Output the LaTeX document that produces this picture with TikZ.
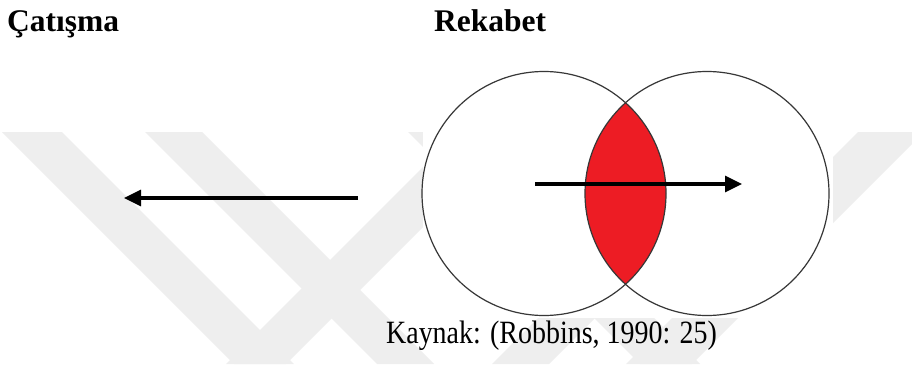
\documentclass[tikz,border=0pt]{standalone}
\usepackage{fontspec}
\setmainfont{Liberation Serif}
\usetikzlibrary{arrows.meta}
\definecolor{wm}{RGB}{238,238,238}
\definecolor{lensred}{RGB}{237,28,36}
\definecolor{ringc}{RGB}{55,55,55}
\begin{document}
\begin{tikzpicture}[x=1pt,y=-1pt,
  band/.style={fill=wm,draw=none},
  ring/.style={circle,draw=ringc,line width=1.2pt,minimum size=244pt,inner sep=0pt},
  bigarrow/.style={line width=3.1pt,-{Triangle[length=17pt,width=16pt]}},
  head/.style={font=\fontsize{31.5}{36}\selectfont\bfseries,inner sep=0pt,anchor=base west},
  src/.style={font=\fontsize{32.5}{36}\selectfont,inner sep=0pt,anchor=base west,xscale=0.86}]
\useasboundingbox (0,0) rectangle (912,364);
\fill[white] (0,0) rectangle (912,364);
% watermark
\begin{scope}
\clip (0,132) rectangle (912,364);
\foreach \a/\b in {-130/-70, 13/70, 276/336}{
  \fill[band] (132+\a,132) -- (132+\b,132) -- (364+\b,364) -- (364+\a,364) -- cycle;}
\foreach \a/\b in {590/650, 856/913, 990/1056}{
  \fill[band] (\a-132,132) -- (\b-132,132) -- (\b-364,364) -- (\a-364,364) -- cycle;}
\end{scope}
\fill[white] (423,60) rectangle (833,318);
% lens
\begin{scope}
\clip (544,193.5) circle[radius=122pt];
\fill[lensred] (707,193.5) circle[radius=122pt];
\end{scope}
\node[ring] (cl) at (544,193.5) {};
\node[ring] (cr) at (707,193.5) {};
% arrows
\coordinate (ra1) at (535,184);
\coordinate (ra2) at (742,184);
\coordinate (la1) at (358,198);
\coordinate (la2) at (124,198);
\draw[bigarrow] (ra1) -- (ra2);
\draw[bigarrow] (la1) -- (la2);
% texts
\node[head] (cat) at (7,31) {Çatışma};
\node[head] (rek) at (434,31) {Rekabet};
\node[src] (src) at (386,343) {Kaynak: (Robbins, 1990: 25)};
\end{tikzpicture}
\end{document}
